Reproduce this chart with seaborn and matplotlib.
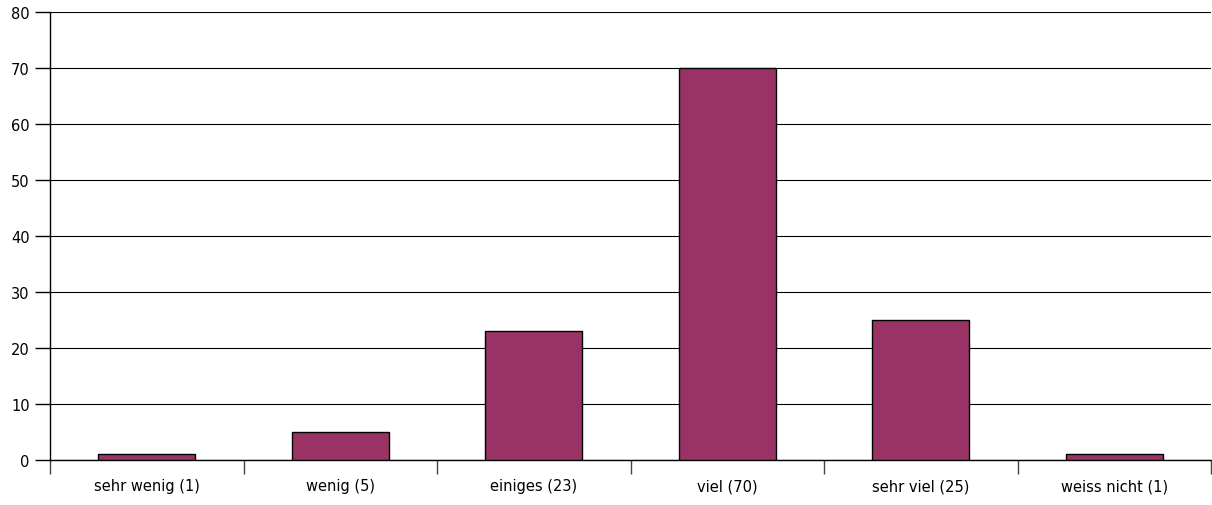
import matplotlib
matplotlib.use("Agg")
import matplotlib.pyplot as plt
import seaborn as sns
import numpy as np
import pandas as pd

categories = ["sehr wenig (1)", "wenig (5)", "einiges (23)", "viel (70)", "sehr viel (25)", "weiss nicht (1)"]
values = [1, 5, 23, 70, 25, 1]

df = pd.DataFrame({"cat": categories, "val": values})

sns.set_style("white")
plt.rcParams["font.family"] = ["DejaVu Sans"]

fig = plt.figure(figsize=(12.12, 5.06), dpi=100)
ax = fig.add_axes([50 / 1212, 1 - 461 / 506, 1161 / 1212, 448 / 506])

sns.barplot(data=df, x="cat", y="val", color="#993366", width=0.5,
            edgecolor="black", linewidth=1, saturation=1, ax=ax, zorder=3)

ax.set_xlim(-0.5, 5.5)
ax.set_ylim(0, 80)
ax.set_yticks(np.arange(0, 81, 10))
ax.yaxis.grid(True, color="black", linewidth=0.8, zorder=0)
ax.set_axisbelow(True)

ax.set_xticks(np.arange(-0.5, 5.6, 1), minor=True)
ax.tick_params(axis="x", which="major", length=0, pad=13, labelsize=10.5, labelcolor="black")
ax.tick_params(axis="x", which="minor", bottom=True, length=10, width=1, color="#444444", direction="out")
ax.tick_params(axis="y", length=11, width=1, color="black", direction="out", labelsize=10.5,
               labelcolor="black", left=True)

ax.set_xlabel("")
ax.set_ylabel("")
for s in ["top", "right"]:
    ax.spines[s].set_visible(False)
for s in ["left", "bottom"]:
    ax.spines[s].set_color("black")
    ax.spines[s].set_linewidth(1)

fig.savefig("out.png", dpi=100)
